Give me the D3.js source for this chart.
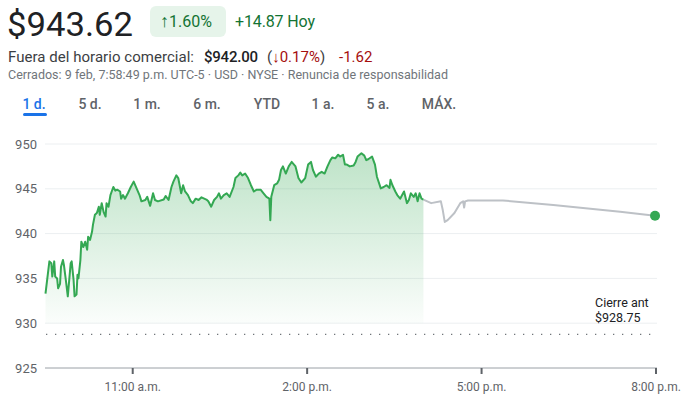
<!DOCTYPE html>
<html>
<head>
<meta charset="utf-8">
<script src="https://cdn.jsdelivr.net/npm/d3@7/dist/d3.min.js"></script>
<style>
  body { margin: 0; background: #fff; }
  svg { font-family: Roboto, Arial, sans-serif; }
</style>
</head>
<body>
<svg width="691" height="404"></svg>
<script>
// header texts
var price = "$943.62";
var changePct = "1.60%";
var changeAbs = "+14.87 Hoy";
var ahLabel = "Fuera del horario comercial:";
var ahPrice = "$942.00";
var ahPct = "0.17%";
var ahAbs = "-1.62";
var infoLine = "Cerrados: 9 feb, 7:58:49 p.m. UTC-5 · USD · NYSE · Renuncia de responsabilidad";
var tabs = ["1 d.", "5 d.", "1 m.", "6 m.", "YTD", "1 a.", "5 a.", "MÁX."];

// axes
var yTicks = [925, 930, 935, 940, 945, 950];
var xTicks = ["11:00", "14:00", "17:00", "20:00"];
var xTickLabels = ["11:00 a.m.", "2:00 p.m.", "5:00 p.m.", "8:00 p.m."];
var prevClose = 928.75;

// regular session (hh:mm, price)
var sessionTimes = ["9:30","9:34","9:36","9:37","9:39","9:40","9:42","9:43","9:45","9:46","9:48","9:49","9:51","9:53","9:56","9:57","9:59",
  "10:00","10:02","10:03","10:04","10:06","10:07","10:09","10:11","10:13","10:14","10:16","10:18","10:19","10:21","10:23","10:25","10:26","10:28","10:30",
  "10:32","10:33","10:35","10:37","10:40","10:42","10:44","10:47","10:48","10:50","10:52","10:55","10:58","11:01","11:04","11:07","11:09","11:13",
  "11:15","11:18","11:21","11:23","11:26","11:32","11:34","11:37","11:40","11:42","11:45","11:47","11:50","11:52","11:54","11:57",
  "12:00","12:02","12:05","12:08","12:11","12:16","12:18","12:21","12:24","12:27","12:29","12:31","12:34","12:37","12:40","12:44","12:46","12:49",
  "12:51","12:53","12:56","12:59","13:02","13:05","13:08","13:12","13:15","13:18","13:21","13:22","13:23","13:26","13:29","13:31","13:33","13:35",
  "13:38","13:41","13:44","13:48","13:51","13:54","13:58","14:01","14:04","14:06","14:09","14:12","14:15","14:18","14:21","14:24","14:26","14:29",
  "14:32","14:34","14:37","14:39","14:41","14:44","14:48","14:50","14:52","14:56","14:59","15:01","15:03","15:07","15:10","15:12","15:16","15:19",
  "15:22","15:25","15:26","15:28","15:31","15:33","15:36","15:39","15:40","15:43","15:45","15:47","15:50","15:52","15:54","15:56","15:58","16:00"];
var sessionPrices = [933.3,936.9,936.7,935.2,936.9,935.2,935.0,933.9,934.4,936.3,937.05,936.5,934.8,933.0,936.7,936.9,934.8,
  933.0,933.2,935.4,935.0,937.05,939.1,938.5,939.1,938.2,939.65,939.3,940.2,941.0,942.1,942.3,943.0,942.1,943.4,942.4,
  941.9,943.4,943.0,944.3,945.2,944.8,944.9,944.7,943.9,944.3,943.9,944.5,945.2,945.8,945.05,944.3,943.6,943.75,
  944.1,943.1,944.5,943.75,943.6,943.8,944.2,943.75,945.2,945.8,946.5,946.2,944.5,945.4,944.7,944.3,
  943.6,943.4,943.9,943.75,944.05,943.8,943.6,943.0,943.75,944.1,944.5,943.9,944.3,944.5,944.1,945.2,946.2,946.5,
  946.8,946.5,946.7,946.2,945.4,944.7,944.9,944.9,944.5,944.1,943.9,941.5,944.1,945.4,945.6,946.0,947.1,947.5,
  946.7,947.5,948.0,947.5,946.2,945.7,946.2,947.7,948.0,947.1,946.35,946.7,946.9,946.7,947.5,948.2,948.5,948.4,
  948.8,948.6,948.8,947.7,947.7,947.5,947.6,948.0,948.6,948.96,948.7,948.2,948.3,948.6,947.7,946.35,945.05,945.2,
  945.4,945.1,946.0,945.4,944.7,944.3,943.9,944.5,944.7,943.4,943.75,944.5,944.1,944.5,943.6,944.5,943.9,943.8];

// after hours
var afterTimes = ["16:00","16:08","16:18","16:20","16:22","16:25","16:32","16:38","16:41","16:42","16:43","16:46","17:22","18:14","19:23","19:59"];
var afterPrices = [943.8,943.4,943.6,942.6,941.3,941.5,942.3,943.4,943.6,942.9,943.6,943.7,943.7,943.2,942.45,942.0];

var parseT = d3.timeParse("%Y-%m-%d %H:%M");
function t(s) { return parseT("2024-02-09 " + s); }

var session = sessionTimes.map(function(s, i) { return { t: t(s), v: sessionPrices[i] }; });
var after = afterTimes.map(function(s, i) { return { t: t(s), v: afterPrices[i] }; });

var svg = d3.select("svg");

var x = d3.scaleTime().domain([t("9:30"), t("20:00")]).range([45.5, 656]);
var y = d3.scaleLinear().domain([925, 950]).range([368, 144]);

// ---------- header ----------
svg.append("text").attr("x", 7).attr("y", 36).attr("font-size", 33).attr("fill", "#202124")
  .attr("textLength", 126).attr("lengthAdjust", "spacingAndGlyphs").text(price);

svg.append("rect").attr("x", 150).attr("y", 6).attr("width", 76).attr("height", 31).attr("rx", 6).attr("fill", "#e6f4ea");
var badge = svg.append("text").attr("x", 160).attr("y", 27).attr("font-size", 16).attr("fill", "#137333");
badge.append("tspan").attr("font-size", 18).attr("dy", 0).text("↑");
badge.append("tspan").text(changePct);
svg.append("text").attr("x", 235).attr("y", 27).attr("font-size", 16).attr("fill", "#137333")
  .attr("textLength", 80).text(changeAbs);

svg.append("text").attr("x", 8).attr("y", 62).attr("font-size", 15).attr("fill", "#3c4043")
  .attr("textLength", 186).text(ahLabel);
svg.append("text").attr("x", 204).attr("y", 62).attr("font-size", 15).attr("fill", "#202124").attr("font-weight", 500)
  .attr("textLength", 54).text(ahPrice);
var l2 = svg.append("text").attr("x", 267).attr("y", 62).attr("font-size", 15);
l2.append("tspan").attr("fill", "#3c4043").text("(");
l2.append("tspan").attr("fill", "#a50e0e").text("↓" + ahPct);
l2.append("tspan").attr("fill", "#3c4043").text(")");
svg.append("text").attr("x", 339).attr("y", 62).attr("font-size", 15).attr("fill", "#a50e0e").text(ahAbs);

svg.append("text").attr("x", 8).attr("y", 79).attr("font-size", 12.5).attr("fill", "#70757a")
  .attr("textLength", 440).text(infoLine);

var tabX = [34, 90, 147, 207, 267, 323, 378, 439];
tabs.forEach(function(s, i) {
  svg.append("text").attr("x", tabX[i]).attr("y", 109).attr("text-anchor", "middle")
    .attr("font-size", 14).attr("font-weight", 500)
    .attr("fill", i == 0 ? "#1a73e8" : "#5f6368").text(s);
});
svg.append("rect").attr("x", 23).attr("y", 113).attr("width", 24).attr("height", 3).attr("rx", 1.5).attr("fill", "#1a73e8");

// ---------- grid ----------
svg.append("g").selectAll("line").data(yTicks.slice(1)).enter().append("line")
  .attr("x1", 45).attr("x2", 657)
  .attr("y1", function(d) { return y(d); }).attr("y2", function(d) { return y(d); })
  .attr("stroke", "#eceff1").attr("stroke-width", 1);

svg.append("g").selectAll("text").data(yTicks).enter().append("text")
  .attr("x", 37).attr("y", function(d) { return y(d) + 4.5; })
  .attr("text-anchor", "end").attr("font-size", 13).attr("fill", "#5f6368")
  .text(function(d) { return d; });

// baseline + ticks
svg.append("line").attr("x1", 45).attr("x2", 657).attr("y1", y(925)).attr("y2", y(925))
  .attr("stroke", "#9aa0a6").attr("stroke-width", 1);
svg.append("g").selectAll("line").data(xTicks).enter().append("line")
  .attr("x1", function(d) { return x(t(d)); }).attr("x2", function(d) { return x(t(d)); })
  .attr("y1", y(925)).attr("y2", y(925) + 6)
  .attr("stroke", "#5f6368").attr("stroke-width", 2);
svg.append("g").selectAll("text").data(xTicks).enter().append("text")
  .attr("x", function(d) { return x(t(d)); }).attr("y", 391)
  .attr("text-anchor", "middle").attr("font-size", 12).attr("fill", "#5f6368")
  .text(function(d, i) { return xTickLabels[i]; });

// ---------- area ----------
var grad = svg.append("defs").append("linearGradient").attr("id", "g1")
  .attr("x1", 0).attr("x2", 0).attr("y1", 0).attr("y2", 1);
grad.append("stop").attr("offset", "0%").attr("stop-color", "#34a853").attr("stop-opacity", 0.32);
grad.append("stop").attr("offset", "100%").attr("stop-color", "#34a853").attr("stop-opacity", 0.02);

var area = d3.area().x(function(d) { return x(d.t); }).y0(y(930)).y1(function(d) { return y(d.v); });
svg.append("path").datum(session).attr("d", area).attr("fill", "url(#g1)");

// previous close
svg.append("line").attr("x1", 46).attr("x2", 652).attr("y1", y(prevClose)).attr("y2", y(prevClose))
  .attr("stroke", "#70757a").attr("stroke-width", 1.2).attr("stroke-dasharray", "1.3,7.7");
svg.append("text").attr("x", 595).attr("y", 307).attr("font-size", 12.5).attr("fill", "#202124").text("Cierre ant");
svg.append("text").attr("x", 595).attr("y", 322).attr("font-size", 12.5).attr("fill", "#202124").text("$" + prevClose.toFixed(2));

// ---------- lines ----------
var line = d3.line().x(function(d) { return x(d.t); }).y(function(d) { return y(d.v); });
svg.append("path").datum(after).attr("d", line).attr("fill", "none")
  .attr("stroke", "#bdc1c6").attr("stroke-width", 2).attr("stroke-linejoin", "round");
svg.append("path").datum(session).attr("d", line).attr("fill", "none")
  .attr("stroke", "#34a853").attr("stroke-width", 2).attr("stroke-linejoin", "round");

var last = after[after.length - 1];
svg.append("circle").attr("cx", x(last.t)).attr("cy", y(last.v)).attr("r", 5).attr("fill", "#34a853");
</script>
</body>
</html>
